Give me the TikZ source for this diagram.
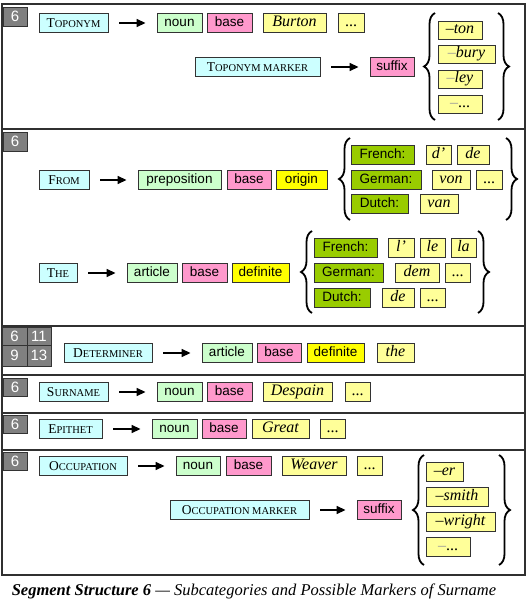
\documentclass[tikz,border=0pt]{standalone}
\usepackage{fontspec}
\setmainfont{Liberation Serif}
\newfontfamily\arialf{Liberation Sans}
\usetikzlibrary{arrows.meta,decorations.pathreplacing}
\definecolor{catc}{HTML}{CCFFFF}
\definecolor{nounc}{HTML}{CCFFCC}
\definecolor{pinkc}{HTML}{FF99CC}
\definecolor{yelc}{HTML}{FFFF00}
\definecolor{exc}{HTML}{FFFF99}
\definecolor{langc}{HTML}{99CC00}
\definecolor{numc}{HTML}{808080}
\definecolor{edgec}{HTML}{333333}
\definecolor{framec}{HTML}{303030}
\definecolor{dashc}{HTML}{999999}
\newcommand\mysc[2]{{\fontsize{13.5}{15}\selectfont #1}{\fontsize{10.5}{12}\selectfont #2}}
\newcommand\Bx[6]{%
  \pgfmathsetmacro\bw{#4-#3}\pgfmathsetmacro\bc{(#3+#4)/2}%
  \node[#1, minimum width=\bw pt] (#2) at (\bc,#5) {#6};}
\newcommand\Nb[6]{%
  \pgfmathsetmacro\bw{#4-#2}\pgfmathsetmacro\bh{#5-#3}%
  \pgfmathsetmacro\bcx{(#2+#4)/2}\pgfmathsetmacro\bcy{(#3+#5)/2}%
  \node[numbox, minimum width=\bw pt, minimum height=\bh pt] (#1) at (\bcx,\bcy) {#6};}
\begin{document}
\begin{tikzpicture}[x=1pt,y=-1pt,
  bx/.style={draw=edgec, line width=0.9pt, inner sep=0pt, minimum height=19pt},
  sans/.style={bx, font=\arialf\fontsize{13.5}{15}\selectfont, text height=9.8pt, text depth=2.8pt},
  cat/.style={bx, fill=catc, text height=9.4pt, text depth=0pt},
  nounb/.style={sans, fill=nounc},
  pinkb/.style={sans, fill=pinkc},
  yelb/.style={sans, fill=yelc},
  langb/.style={sans, fill=langc},
  exb/.style={bx, fill=exc, font=\fontsize{16}{18}\selectfont\itshape, text height=11pt, text depth=3.5pt},
  numbox/.style={draw=edgec, line width=0.9pt, fill=numc, text=white, inner sep=0pt, font=\arialf\fontsize{15}{17}\selectfont},
  frame/.style={draw=framec, line width=1.4pt},
  arr/.style={-{Triangle[length=9pt,width=8pt]}, line width=1.6pt, shorten <=11pt, shorten >=11pt},
  lbrace/.style={draw, line width=1.8pt, decorate, decoration={brace, amplitude=11pt, aspect=0.5}},
]
\useasboundingbox (0,0) rectangle (528,605);
% panels
\draw[frame] (2,4) rectangle (525,129);
\draw[frame] (2,129) rectangle (525,326);
\draw[frame] (2,326) rectangle (525,375);
\draw[frame] (2,375) rectangle (525,413);
\draw[frame] (2,413) rectangle (525,450);
\draw[frame] (2,450) rectangle (525,575);

% ---------- Panel 1: Toponym
\Nb{n1}{3}{7}{27}{26}{6}
\Bx{cat}{top}{39}{108}{23}{\mysc{T}{OPONYM}}
\Bx{nounb}{topnoun}{157}{202}{23}{noun}
\Bx{pinkb}{topbase}{207}{252}{23}{base}
\Bx{exb}{burton}{263}{326}{23}{Burton}
\Bx{exb}{topdots}{338}{364}{23}{\upshape ...}
\draw[arr] (top) -- (topnoun);
\Bx{cat}{topmk}{195}{320}{67}{\mysc{T}{OPONYM MARKER}}
\Bx{pinkb}{topsuf}{370}{414}{67}{suffix}
\draw[arr] (topmk) -- (topsuf);
\Bx{exb,minimum height=18pt}{ton}{438}{482}{30}{–ton}
\Bx{exb,minimum height=18pt}{bury}{438}{495}{54}{\textcolor{dashc}{–}bury}
\Bx{exb,minimum height=18pt}{ley}{438}{482}{79}{\textcolor{dashc}{–}ley}
\Bx{exb,minimum height=18pt}{tdots}{438}{482}{104}{\textcolor{dashc}{–}\upshape...}
\coordinate (b1a) at (435,120); \coordinate (b1b) at (435,13);
\coordinate (b1c) at (498,13); \coordinate (b1d) at (498,120);
\draw[lbrace] (b1a) -- (b1b);
\draw[lbrace] (b1c) -- (b1d);

% ---------- Panel 2: From / The
\Nb{n2}{3}{132}{27}{151}{6}
\Bx{cat}{from}{39}{89}{180}{\mysc{F}{ROM}}
\Bx{nounb}{prep}{138}{221}{180}{preposition}
\Bx{pinkb}{frbase}{227}{271}{180}{base}
\Bx{yelb}{origin}{276}{327}{180}{origin}
\draw[arr] (from) -- (prep);
\Bx{langb}{fr1}{351}{414}{155}{French:}
\Bx{exb}{dap}{426}{451}{155}{d’}
\Bx{exb}{de1}{457}{489}{155}{de}
\Bx{langb}{ge1}{351}{421}{180}{German:}
\Bx{exb}{von}{432}{470}{180}{von}
\Bx{exb}{vdots}{476}{502}{180}{\upshape ...}
\Bx{langb}{du1}{351}{408}{204}{Dutch:}
\Bx{exb}{van}{420}{458}{204}{van}
\coordinate (b2a) at (350,220); \coordinate (b2b) at (350,138);
\coordinate (b2c) at (506,138); \coordinate (b2d) at (506,220);
\draw[lbrace] (b2a) -- (b2b);
\draw[lbrace] (b2c) -- (b2d);

\Bx{cat}{the}{39}{77}{273}{\mysc{T}{HE}}
\Bx{nounb}{art}{127}{177}{273}{article}
\Bx{pinkb}{thbase}{182}{227}{273}{base}
\Bx{yelb}{def}{232}{289}{273}{definite}
\draw[arr] (the) -- (art);
\Bx{langb}{fr2}{314}{377}{248}{French:}
\Bx{exb}{lap}{388}{414}{248}{l’}
\Bx{exb}{le}{420}{445}{248}{le}
\Bx{exb}{la}{451}{476}{248}{la}
\Bx{langb}{ge2}{314}{383}{273}{German:}
\Bx{exb}{dem}{395}{439}{273}{dem}
\Bx{exb}{ddots}{445}{470}{273}{\upshape ...}
\Bx{langb}{du2}{314}{370}{298}{Dutch:}
\Bx{exb}{de2}{382}{414}{298}{de}
\Bx{exb}{dudots}{420}{445}{298}{\upshape ...}
\coordinate (b3a) at (312,313); \coordinate (b3b) at (312,231);
\coordinate (b3c) at (478,231); \coordinate (b3d) at (478,313);
\draw[lbrace] (b3a) -- (b3b);
\draw[lbrace] (b3c) -- (b3d);

% ---------- Panel 3: Determiner
\Nb{g1}{2}{327}{27}{345}{6}
\Nb{g2}{27}{327}{51}{345}{11}
\Nb{g3}{2}{345}{27}{366}{9}
\Nb{g4}{27}{345}{51}{366}{13}
\Bx{cat}{det}{64}{152}{353}{\mysc{D}{ETERMINER}}
\Bx{nounb}{detart}{202}{252}{353}{article}
\Bx{pinkb}{detbase}{257}{301}{353}{base}
\Bx{yelb}{detdef}{307}{364}{353}{definite}
\Bx{exb}{detthe}{377}{414}{353}{the}
\draw[arr] (det) -- (detart);

% ---------- Panel 4: Surname
\Nb{n4}{3}{378}{27}{396}{6}
\Bx{cat}{sur}{39}{108}{392}{\mysc{S}{URNAME}}
\Bx{nounb}{surnoun}{157}{202}{392}{noun}
\Bx{pinkb}{surbase}{207}{252}{392}{base}
\Bx{exb}{despain}{263}{332}{392}{Despain}
\Bx{exb}{surdots}{345}{370}{392}{\upshape ...}
\draw[arr] (sur) -- (surnoun);

% ---------- Panel 5: Epithet
\Nb{n5}{3}{415}{27}{433}{6}
\Bx{cat}{epi}{39}{102}{429}{\mysc{E}{PITHET}}
\Bx{nounb}{epinoun}{152}{197}{429}{noun}
\Bx{pinkb}{epibase}{202}{246}{429}{base}
\Bx{exb}{great}{252}{309}{429}{Great}
\Bx{exb}{epidots}{320}{345}{429}{\upshape ...}
\draw[arr] (epi) -- (epinoun);

% ---------- Panel 6: Occupation
\Nb{n6}{3}{452}{27}{470}{6}
\Bx{cat}{occ}{39}{127}{466}{\mysc{O}{CCUPATION}}
\Bx{nounb}{occnoun}{176}{220}{466}{noun}
\Bx{pinkb}{occbase}{226}{271}{466}{base}
\Bx{exb}{weaver}{282}{346}{466}{Weaver}
\Bx{exb}{occdots}{357}{382}{466}{\upshape ...}
\draw[arr] (occ) -- (occnoun);
\Bx{cat}{occmk}{170}{309}{510}{\mysc{O}{CCUPATION MARKER}}
\Bx{pinkb}{occsuf}{357}{401}{510}{suffix}
\draw[arr] (occmk) -- (occsuf);
\Bx{exb}{er}{426}{463}{472}{–er}
\Bx{exb}{smith}{426}{488}{497}{–smith}
\Bx{exb}{wright}{426}{495}{522}{–wright}
\Bx{exb}{odots}{426}{470}{547}{\textcolor{dashc}{–}\upshape...}
\coordinate (b4a) at (424,565); \coordinate (b4b) at (424,455);
\coordinate (b4c) at (499,455); \coordinate (b4d) at (499,565);
\draw[lbrace] (b4a) -- (b4b);
\draw[lbrace] (b4c) -- (b4d);

% caption
\node[font=\fontsize{16.5}{19}\selectfont\itshape, inner sep=0pt] (cap) at (254,591)
  {\textbf{Segment Structure 6} — Subcategories and Possible Markers of Surname};
\end{tikzpicture}
\end{document}
